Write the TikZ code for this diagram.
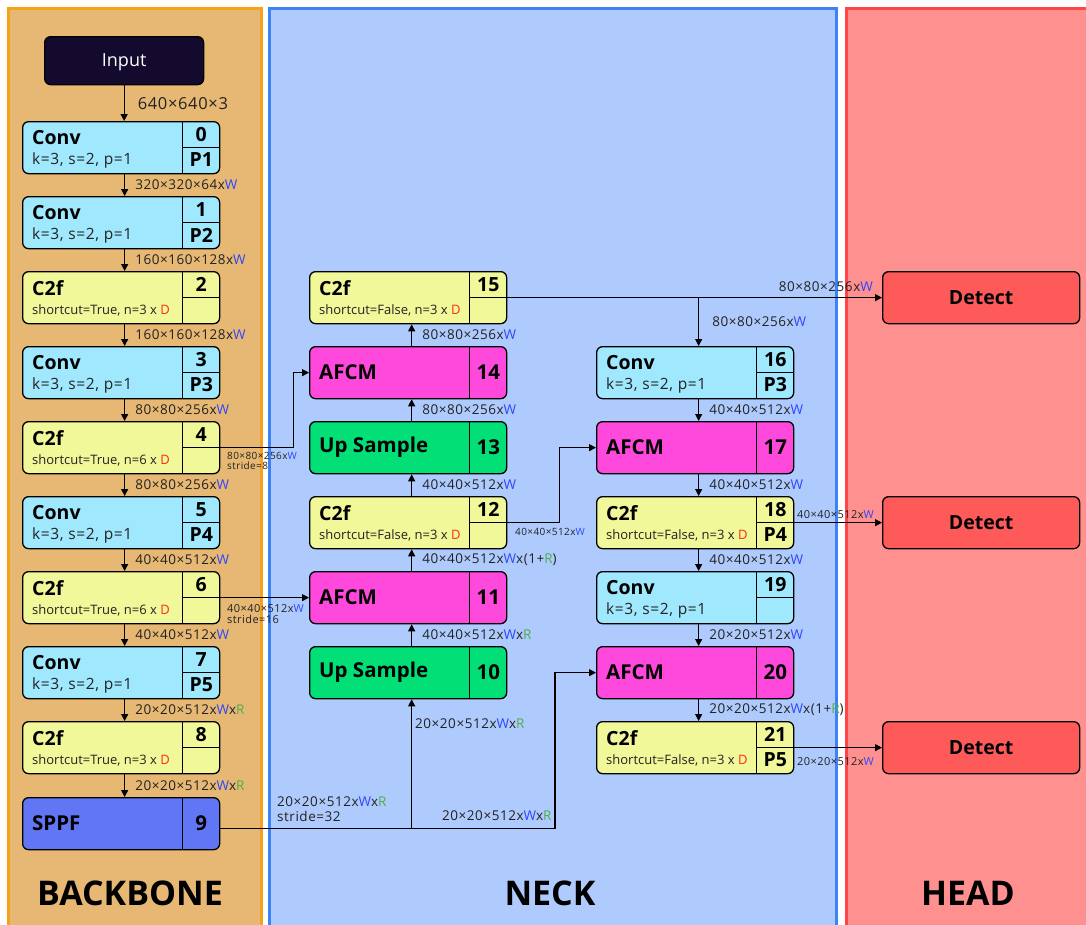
\documentclass[tikz,border=0pt]{standalone}
\usepackage{fontspec}
\setmainfont{Open Sans}
\newfontfamily\lsp{Open Sans}[LetterSpace=4]
\usetikzlibrary{arrows.meta,calc}
\definecolor{bbfill}{HTML}{E6B873}
\definecolor{bbline}{HTML}{F7A11A}
\definecolor{nkfill}{HTML}{AFCBFD}
\definecolor{nkline}{HTML}{3D83F6}
\definecolor{hdfill}{HTML}{FF9090}
\definecolor{hdline}{HTML}{FF4545}
\definecolor{convc}{HTML}{9FE8FD}
\definecolor{c2fc}{HTML}{F0F89A}
\definecolor{afcmc}{HTML}{FF48DC}
\definecolor{upc}{HTML}{03DF77}
\definecolor{sppfc}{HTML}{6176F5}
\definecolor{inputc}{HTML}{130A2E}
\definecolor{detc}{HTML}{FF5A5A}
\definecolor{wblue}{HTML}{2E45FF}
\definecolor{dred}{HTML}{FF2A1A}
\definecolor{rgreen}{HTML}{4CAF50}
\definecolor{txt}{HTML}{222222}
\newcommand\cW{\textcolor{wblue}{W}}
\newcommand\cR{\textcolor{rgreen}{R}}
\newcommand\cD{\textcolor{dred}{D}}
\tikzset{
  blk/.style={draw=black, line width=1.3pt, rounded corners=6pt, minimum width=197pt, minimum height=52pt, inner sep=0pt, anchor=north west},
  ttl/.style={font=\bfseries\fontsize{19.5}{22}\selectfont, anchor=west, inner sep=0pt},
  subl/.style={font=\lsp\fontsize{15.5}{18}\selectfont, anchor=west, inner sep=0pt, text=txt},
  subs/.style={font=\fontsize{13}{15}\selectfont, anchor=west, inner sep=0pt, text=txt},
  num/.style={font=\bfseries\fontsize{19.5}{22}\selectfont, inner sep=0pt},
  bigt/.style={font=\bfseries\fontsize{20.5}{24}\selectfont, anchor=west, inner sep=0pt},
  bign/.style={font=\bfseries\fontsize{20.5}{24}\selectfont, inner sep=0pt},
  lbl/.style={font=\lsp\fontsize{13.5}{16}\selectfont, anchor=west, inner sep=0pt, text=txt},
  slbl/.style={font=\lsp\fontsize{10}{12}\selectfont, anchor=west, inner sep=0pt, text=txt, align=left},
  mlbl/.style={font=\lsp\fontsize{11}{13}\selectfont, anchor=west, inner sep=0pt, text=txt, align=left},
  arr/.style={-{Triangle[length=7pt,width=7pt]}, line width=1.2pt},
  sec/.style={font=\bfseries\fontsize{34}{38}\selectfont, inner sep=0pt},
  panel/.style={line width=3pt}
}
\newcommand\cellbox[9]{%
  \node[blk,fill=#4] (#1) at (#2,#3) {};
  \draw[line width=1.3pt] ([xshift=-38pt]#1.north east) -- ([xshift=-38pt]#1.south east);
  \draw[line width=1.3pt] ([xshift=-38pt]#1.east) -- (#1.east);
  \node[ttl] (#1t) at ([xshift=10pt,yshift=-17pt]#1.north west) {#5};
  \node[#7] (#1s) at ([xshift=10pt,yshift=-39pt]#1.north west) {#6};
  \node[num] (#1n) at ([xshift=-19pt,yshift=-13.5pt]#1.north east) {#8};
  \node[num] (#1p) at ([xshift=-19pt,yshift=-39pt]#1.north east) {#9};
}
\newcommand\plainbox[6]{%
  \node[blk,fill=#4] (#1) at (#2,#3) {};
  \draw[line width=1.3pt] ([xshift=-38pt]#1.north east) -- ([xshift=-38pt]#1.south east);
  \node[bigt] (#1t) at ([xshift=10pt]#1.west) {#5};
  \node[bign] (#1n) at ([xshift=-19pt]#1.east) {#6};
}
\newcommand\downarr[4]{%
  \draw[arr] ([xshift=3.5pt]#1.south) -- node[lbl, xshift=10pt] (#4) {#3} ([xshift=3.5pt]#2.north);
}
\newcommand\uparr[4]{%
  \draw[arr] ([xshift=3.5pt]#1.north) -- node[lbl, xshift=10pt] (#4) {#3} ([xshift=3.5pt]#2.south);
}
\begin{document}
\begin{tikzpicture}[x=1pt,y=-1pt]
\useasboundingbox (0,0) rectangle (1086,924);
% panels
\draw[panel, draw=bbline, fill=bbfill] (8.5,8.5) rectangle (261.5,940);
\draw[panel, draw=nkline, fill=nkfill] (269.5,8.5) rectangle (836.5,940);
\draw[panel, draw=hdline, fill=hdfill] (846.5,8.5) rectangle (1100,940);
\node[sec] (tbb) at (130,893) {BACKBONE};
\node[sec] (tnk) at (550,893) {NECK};
\node[sec] (thd) at (968,893) {HEAD};

% backbone
\node[blk, fill=inputc, minimum width=159pt, minimum height=48pt] (in) at (44,36) {};
\node[text=white, font=\fontsize{18}{22}\selectfont, inner sep=0pt] (intx) at ([yshift=-2pt]in.center) {Input};
\cellbox{b0}{22}{121}{convc}{Conv}{k=3, s=2, p=1}{subl}{0}{P1}
\cellbox{b1}{22}{196}{convc}{Conv}{k=3, s=2, p=1}{subl}{1}{P2}
\cellbox{b2}{22}{271}{c2fc}{C2f}{shortcut=True, n=3 x \cD}{subs}{2}{}
\cellbox{b3}{22}{346}{convc}{Conv}{k=3, s=2, p=1}{subl}{3}{P3}
\cellbox{b4}{22}{421}{c2fc}{C2f}{shortcut=True, n=6 x \cD}{subs}{4}{}
\cellbox{b5}{22}{496}{convc}{Conv}{k=3, s=2, p=1}{subl}{5}{P4}
\cellbox{b6}{22}{571}{c2fc}{C2f}{shortcut=True, n=6 x \cD}{subs}{6}{}
\cellbox{b7}{22}{646}{convc}{Conv}{k=3, s=2, p=1}{subl}{7}{P5}
\cellbox{b8}{22}{721}{c2fc}{C2f}{shortcut=True, n=3 x \cD}{subs}{8}{}
\plainbox{b9}{22}{797}{sppfc}{SPPF}{9}

\draw[arr] (in.south) -- node[lbl, xshift=13pt, font=\lsp\fontsize{16.5}{19}\selectfont] (l0) {640×640×3} (in.south |- b0.north);
\downarr{b0}{b1}{320×320×64x\cW}{l1}
\downarr{b1}{b2}{160×160×128x\cW}{l2}
\downarr{b2}{b3}{160×160×128x\cW}{l3}
\downarr{b3}{b4}{80×80×256x\cW}{l4}
\downarr{b4}{b5}{80×80×256x\cW}{l5}
\downarr{b5}{b6}{40×40×512x\cW}{l6}
\downarr{b6}{b7}{40×40×512x\cW}{l7}
\downarr{b7}{b8}{20×20×512x\cW x\cR}{l8}
\downarr{b8}{b9}{20×20×512x\cW x\cR}{l9}

% neck left
\cellbox{n15}{309}{271}{c2fc}{C2f}{shortcut=False, n=3 x \cD}{subs}{15}{}
\plainbox{n14}{309}{346}{afcmc}{AFCM}{14}
\plainbox{n13}{309}{421}{upc}{Up Sample}{13}
\cellbox{n12}{309}{496}{c2fc}{C2f}{shortcut=False, n=3 x \cD}{subs}{12}{}
\plainbox{n11}{309}{571}{afcmc}{AFCM}{11}
\plainbox{n10}{309}{646}{upc}{Up Sample}{10}

\uparr{n10}{n11}{40×40×512x\cW x\cR}{m1}
\uparr{n11}{n12}{40×40×512x\cW x(1+\cR)}{m2}
\uparr{n12}{n13}{40×40×512x\cW}{m3}
\uparr{n13}{n14}{80×80×256x\cW}{m4}
\uparr{n14}{n15}{80×80×256x\cW}{m5}

% neck right
\cellbox{n16}{596}{346}{convc}{Conv}{k=3, s=2, p=1}{subl}{16}{P3}
\plainbox{n17}{596}{421}{afcmc}{AFCM}{17}
\cellbox{n18}{596}{496}{c2fc}{C2f}{shortcut=False, n=3 x \cD}{subs}{18}{P4}
\cellbox{n19}{596}{571}{convc}{Conv}{k=3, s=2, p=1}{subl}{19}{}
\plainbox{n20}{596}{646}{afcmc}{AFCM}{20}
\cellbox{n21}{596}{721}{c2fc}{C2f}{shortcut=False, n=3 x \cD}{subs}{21}{P5}

\downarr{n16}{n17}{40×40×512x\cW}{r1}
\downarr{n17}{n18}{40×40×512x\cW}{r2}
\downarr{n18}{n19}{40×40×512x\cW}{r3}
\downarr{n19}{n20}{20×20×512x\cW}{r4}
\downarr{n20}{n21}{20×20×512x\cW x(1+\cR)}{r5}

% head
\node[blk, fill=detc, font=\bfseries\fontsize{19.5}{22}\selectfont] (d1) at (882,271) {Detect};
\node[blk, fill=detc, font=\bfseries\fontsize{19.5}{22}\selectfont] (d2) at (882,496) {Detect};
\node[blk, fill=detc, font=\bfseries\fontsize{19.5}{22}\selectfont] (d3) at (882,721) {Detect};

% skip connections
\draw[arr] (b4.east) -- ++(73,0) |- (n14.west);
\node[slbl] (s4) at (227,461) {80×80×256x\cW\\[-2pt]stride=8};
\draw[arr] (b6.east) -- (n11.west);
\node[mlbl] (s6) at (227,614) {40×40×512x\cW\\[-2pt]stride=16};

\coordinate (j0) at ([yshift=-5pt]b9.east);
\coordinate (j1) at ([xshift=3.5pt]n10.south |- j0);
\coordinate (j2) at (555,0 |- j0);
\draw[arr] (j0) -- (j2) |- (n20.west);
\draw[arr] (j1) -- ([xshift=3.5pt]n10.south);
\node[lbl, align=left] (s9) at (277,809) {20×20×512x\cW x\cR\\[-1pt]stride=32};
\node[lbl] (s9b) at (442,816) {20×20×512x\cW x\cR};
\node[lbl] (s9c) at (415,724) {20×20×512x\cW x\cR};

\draw[arr] (n12.east) -- ++(52,0) |- (n17.west);
\node[slbl] (s12) at (515,532) {40×40×512x\cW};

\draw[arr] (n15.east) -- (d1.west);
\node[lbl, anchor=east] (s15) at (873,287) {80×80×256x\cW};
\draw[arr] ([xshift=3.5pt]n16.north |- n15.east) -- node[lbl, xshift=13pt] (s15b) {80×80×256x\cW} ([xshift=3.5pt]n16.north);

\draw[arr] (n18.east) -- (d2.west);
\node[mlbl] (s18) at (797,515) {40×40×512x\cW};
\draw[arr] (n21.east) -- (d3.west);
\node[mlbl] (s21) at (797,762) {20×20×512x\cW};
\end{tikzpicture}
\end{document}
